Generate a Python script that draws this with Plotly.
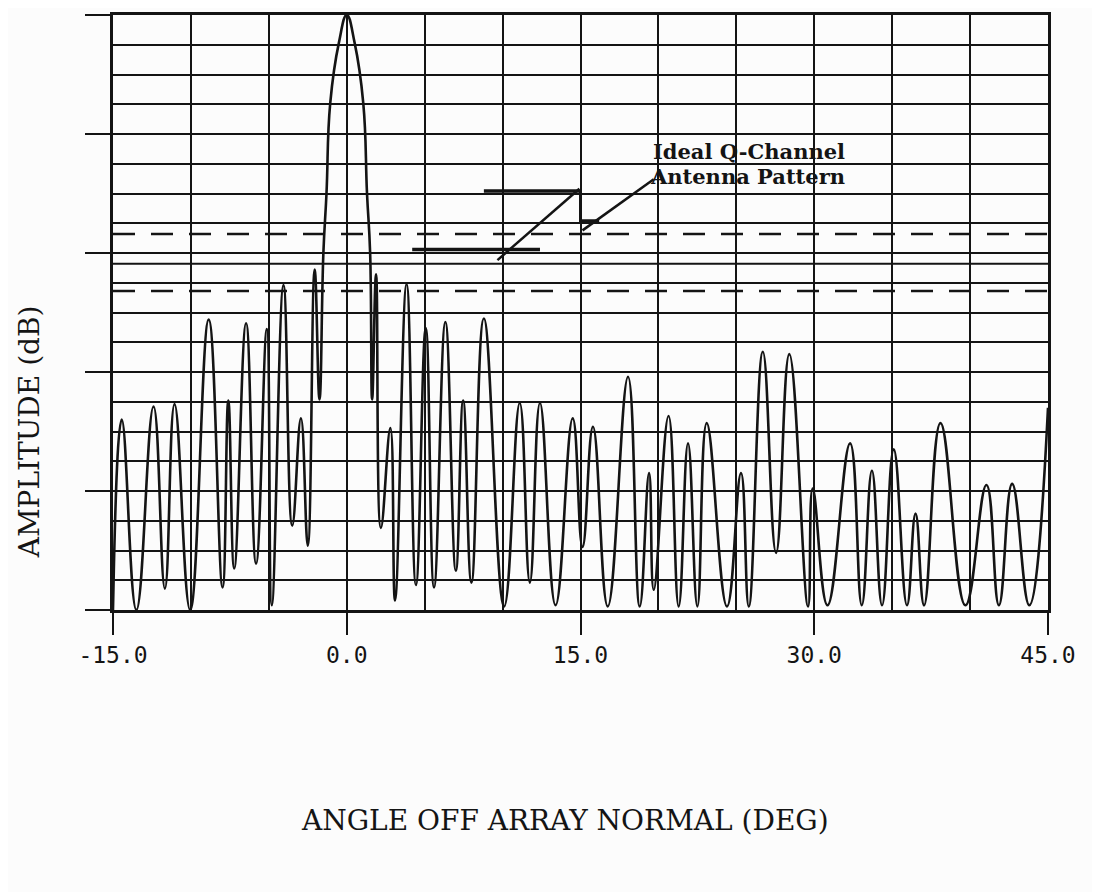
import plotly.graph_objects as go

# ---- data (angle in degrees, amplitude in dB) ----
angle_deg = [
    -15.0, -14.44, -13.5, -12.4, -11.67, -11.05, -10.05, -8.86, -7.97, -7.6,
    -7.22, -6.46, -5.82, -5.13, -4.81, -4.06, -3.5, -2.94, -2.5, -2.06,
    -1.75, -1.5, -1.3, -1.06, -0.5, 0.0, 0.5, 1.06, 1.3, 1.5,
    1.63, 1.88, 2.19, 2.8, 3.1, 3.84, 4.44, 5.07, 5.6, 6.33,
    7.0, 7.47, 8.0, 8.8, 10.1, 11.1, 11.75, 12.4, 13.4, 14.5,
    15.13, 15.8, 16.75, 18.05, 18.8, 19.4, 19.7, 20.65, 21.3, 21.9,
    22.5, 23.1, 24.4, 25.3, 25.8, 26.7, 27.55, 28.4, 29.6, 29.9,
    30.85, 32.3, 33.05, 33.7, 34.35, 35.1, 35.95, 36.5, 37.05, 38.1,
    39.7, 41.05, 41.85, 42.7, 43.8, 45.0,
]
amplitude_db = [
    -50.0, -34.0, -50.0, -32.9, -48.2, -32.7, -50.0, -25.6, -48.1, -32.4,
    -46.5, -25.9, -46.1, -26.4, -49.6, -22.7, -42.9, -33.9, -44.6, -21.4,
    -32.3, -20.0, -15.0, -7.4, -2.3, 0.0, -2.3, -7.4, -15.0, -20.0,
    -32.3, -21.8, -43.1, -34.7, -49.2, -22.6, -47.9, -26.3, -48.1, -25.8,
    -46.7, -32.4, -47.7, -25.5, -49.7, -32.6, -47.7, -32.6, -49.6, -33.9,
    -44.7, -34.6, -49.7, -30.4, -49.7, -38.5, -48.3, -33.7, -49.7, -36.0,
    -49.7, -34.3, -49.7, -38.5, -49.7, -28.3, -45.2, -28.5, -49.7, -39.8,
    -49.6, -36.0, -49.6, -38.3, -49.6, -36.5, -49.6, -41.9, -49.6, -34.3,
    -49.6, -39.5, -49.6, -39.4, -49.6, -33.0,
]

x_tick_vals = [-15, 0, 15, 30, 45]
x_tick_text = ["-15.0", "0.0", "15.0", "30.0", "45.0"]
y_major_ticks = [-50, -40, -30, -20, -10, 0]

dashed_levels_db = [-18.4, -23.2]
solid_level_db = [-20.9]

# ideal Q-channel pattern sketch and leader lines (deg, dB)
ideal_upper_x = [8.8, 14.93]
ideal_upper_y = [-14.8, -14.8]
ideal_step_x = [15.0, 15.0, 16.2]
ideal_step_y = [-14.7, -17.3, -17.3]
ideal_lower_x = [4.2, 12.4]
ideal_lower_y = [-19.7, -19.7]
leader1_x = [9.67, 14.93]
leader1_y = [-20.6, -14.6]
leader2_x = [15.13, 19.7]
leader2_y = [-18.1, -13.8]

INK = "#141414"

fig = go.Figure()
fig.add_trace(go.Scatter(
    x=angle_deg, y=amplitude_db, mode="lines",
    line=dict(color=INK, width=2.6, shape="spline", smoothing=1.3),
    showlegend=False, hoverinfo="skip",
))

for lx, ly, w in [(ideal_upper_x, ideal_upper_y, 3.5), (ideal_step_x, ideal_step_y, 3),
                  (ideal_lower_x, ideal_lower_y, 3.5), (leader1_x, leader1_y, 2.5),
                  (leader2_x, leader2_y, 2.5)]:
    fig.add_trace(go.Scatter(x=lx, y=ly, mode="lines", line=dict(color=INK, width=w),
                             showlegend=False, hoverinfo="skip"))

shapes = []
for lv in dashed_levels_db:
    shapes.append(dict(type="line", xref="paper", x0=0, x1=1, yref="y", y0=lv, y1=lv,
                       line=dict(color=INK, width=2.5, dash="22px,16px")))
for lv in solid_level_db:
    shapes.append(dict(type="line", xref="paper", x0=0, x1=1, yref="y", y0=lv, y1=lv,
                       line=dict(color=INK, width=2)))

annotations = [
    dict(text="<b>Ideal Q-Channel</b>", x=19.55, y=-11.5, xref="x", yref="y", xanchor="left",
         yanchor="middle", showarrow=False,
         font=dict(family="DejaVu Serif", size=21, color=INK)),
    dict(text="<b>Antenna Pattern</b>", x=19.35, y=-13.6, xref="x", yref="y", xanchor="left",
         yanchor="middle", showarrow=False,
         font=dict(family="DejaVu Serif", size=21, color=INK)),
    dict(text="ANGLE OFF ARRAY NORMAL (DEG)", x=0.483, y=-0.3545, xref="paper", yref="paper",
         xanchor="center", yanchor="middle", showarrow=False,
         font=dict(family="DejaVu Serif", size=28, color=INK)),
    dict(text="AMPLITUDE (dB)", x=-0.089, y=0.30, xref="paper", yref="paper",
         xanchor="center", yanchor="middle", showarrow=False, textangle=-90,
         font=dict(family="DejaVu Serif", size=28, color=INK)),
]

fig.update_layout(
    width=1100, height=892,
    margin=dict(l=105, r=60, t=4, b=290),
    paper_bgcolor="#fcfcfc", plot_bgcolor="#fcfcfc",
    shapes=shapes, annotations=annotations,
    xaxis=dict(
        range=[-15, 45], tickvals=x_tick_vals, ticktext=x_tick_text,
        ticks="outside", ticklen=22, tickwidth=2, tickcolor=INK,
        tickfont=dict(family="DejaVu Sans Mono", size=23, color=INK),
        showline=True, linewidth=3, linecolor=INK, mirror=True,
        showgrid=True, gridcolor=INK, gridwidth=2, zeroline=False,
        minor=dict(dtick=5, showgrid=True, gridcolor=INK, gridwidth=2),
    ),
    yaxis=dict(
        range=[-50, 0], tickvals=y_major_ticks, showticklabels=False,
        ticks="outside", ticklen=25, tickwidth=2, tickcolor=INK,
        showline=True, linewidth=3, linecolor=INK, mirror=True,
        showgrid=True, gridcolor=INK, gridwidth=2, zeroline=False,
        minor=dict(dtick=2.5, showgrid=True, gridcolor=INK, gridwidth=2),
    ),
)

fig.write_html("out.html")
